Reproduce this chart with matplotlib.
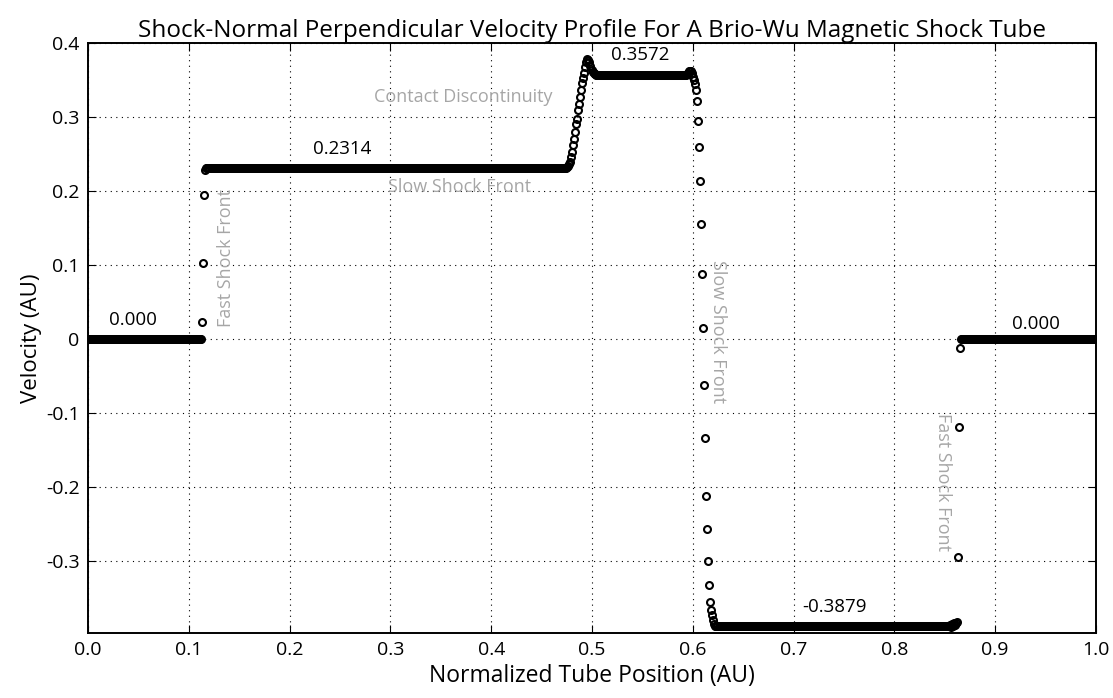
import numpy as np
import matplotlib
matplotlib.use("Agg")
import matplotlib.pyplot as plt

plt.rcParams["font.family"] = ["Open Sans", "DejaVu Sans"]

# cell count of the simulated tube (uniform grid on [0, 1])
n_cells = 1000

# plateau states, left to right, with their cell counts
plateau_values = [0.0, 0.2314, 0.3572, -0.3879, 0.0]
plateau_counts = [113, 358, 91, 233, 134]

# transition points between the plateaus
fast_shock_left = [0.0225, 0.103, 0.194, 0.2285]
contact_rise = [0.232, 0.2335, 0.236, 0.2396, 0.246, 0.253, 0.262, 0.270,
                0.280, 0.2905, 0.297, 0.310, 0.318, 0.327, 0.336, 0.3455,
                0.353, 0.360, 0.368, 0.374, 0.378, 0.377, 0.374, 0.369,
                0.364, 0.361, 0.359, 0.358]
slow_shock = [0.3585, 0.360, 0.3615, 0.3625, 0.362, 0.360,
              0.3545, 0.350, 0.345, 0.337, 0.321, 0.2946, 0.259, 0.2135,
              0.155, 0.088, 0.0145, -0.062, -0.134, -0.212, -0.256, -0.2995,
              -0.3324, -0.355, -0.366, -0.373, -0.380, -0.385]
plateau_wiggle = [-0.3865, -0.389, -0.385, -0.387, -0.384, -0.386, -0.383]
fast_shock_right = [-0.382, -0.294, -0.1185, -0.0126]

value_labels = ["0.000", "0.2314", "0.3572", "-0.3879", "0.000"]
value_label_pos = [(0.045, 0.013), (0.252, 0.244), (0.548, 0.371), (0.741, -0.374), (0.94, 0.008)]

x_ticks = [0.0, 0.1, 0.2, 0.3, 0.4, 0.5, 0.6, 0.7, 0.8, 0.9, 1.0]
x_tick_labels = ["0.0", "0.1", "0.2", "0.3", "0.4", "0.5", "0.6", "0.7", "0.8", "0.9", "1.0"]
y_ticks = [-0.3, -0.2, -0.1, 0.0, 0.1, 0.2, 0.3, 0.4]
y_tick_labels = ["-0.3", "-0.2", "-0.1", "0", "0.1", "0.2", "0.3", "0.4"]


def build_profile():
    parts = [
        [plateau_values[0]] * plateau_counts[0],
        fast_shock_left,
        [plateau_values[1]] * plateau_counts[1],
        contact_rise,
        [plateau_values[2]] * plateau_counts[2],
        slow_shock,
        [plateau_values[3]] * plateau_counts[3],
        plateau_wiggle,
        fast_shock_right,
        [plateau_values[4]] * plateau_counts[4],
    ]
    y = np.concatenate([np.asarray(p, dtype=float) for p in parts])
    x = (np.arange(len(y)) + 0.5) / n_cells
    return x, y


def main():
    x, y = build_profile()

    fig = plt.figure(figsize=(11.13, 6.98), dpi=100)
    ax = fig.add_axes([0.0791, 0.0931, 0.9056, 0.8453])

    ax.plot(x, y, linestyle="none", marker="o", markersize=5.0,
            markerfacecolor="none", markeredgecolor="black", markeredgewidth=1.5)

    ax.set_xlim(0, 1)
    ax.set_ylim(-0.397, 0.4)
    ax.set_xticks(x_ticks)
    ax.set_xticklabels(x_tick_labels)
    ax.set_yticks(y_ticks)
    ax.set_yticklabels(y_tick_labels)
    ax.tick_params(direction="in", top=True, right=True, labelsize=14, length=6, width=0.8, pad=6)
    ax.grid(True, linestyle=(0, (1, 4)), color="black", linewidth=0.8)
    for spine in ax.spines.values():
        spine.set_linewidth(1.4)

    ax.set_title("Shock-Normal Perpendicular Velocity Profile For A Brio-Wu Magnetic Shock Tube",
                 fontsize=17.5, pad=4)
    ax.set_xlabel("Normalized Tube Position (AU)", fontsize=16.5, labelpad=3)
    ax.set_ylabel("Velocity (AU)", fontsize=16, labelpad=3)

    for text, (tx, ty) in zip(value_labels, value_label_pos):
        ax.text(tx, ty, text, ha="center", va="bottom", fontsize=13.5)

    gray = "#a6a6a6"
    ax.text(0.372, 0.327, "Contact Discontinuity", color=gray, fontsize=13, ha="center", va="center")
    ax.text(0.369, 0.205, "Slow Shock Front", color=gray, fontsize=13, ha="center", va="center")
    ax.text(0.137, 0.109, "Fast Shock Front", color=gray, fontsize=13, ha="center", va="center", rotation=90)
    ax.text(0.625, 0.01, "Slow Shock Front", color=gray, fontsize=13, ha="center", va="center", rotation=-90)
    ax.text(0.848, -0.193, "Fast Shock Front", color=gray, fontsize=13, ha="center", va="center", rotation=-90)

    fig.savefig("out.png", dpi=100)
    plt.close(fig)


if __name__ == "__main__":
    main()
